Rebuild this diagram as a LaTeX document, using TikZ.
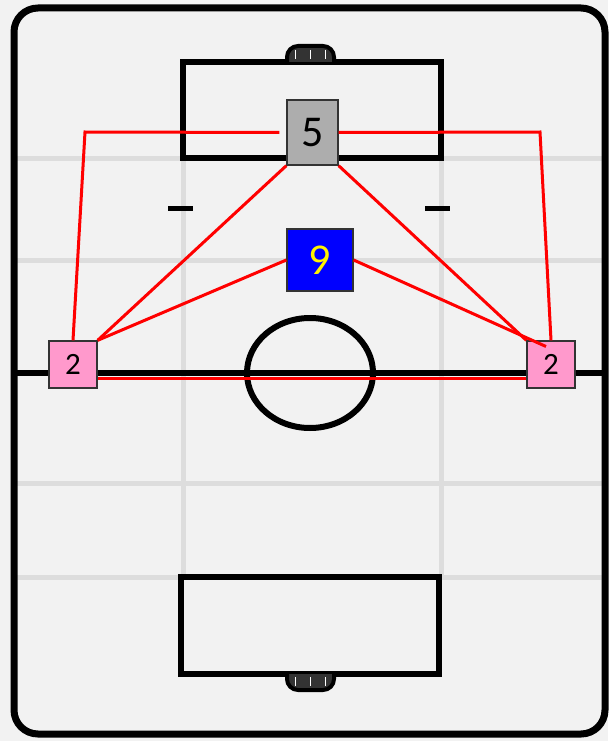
\documentclass[tikz,border=0pt]{standalone}
\usepackage{fontspec}
\setmainfont{Carlito}
\usetikzlibrary{positioning, calc}
\definecolor{turf}{RGB}{242,242,242}
\definecolor{gridline}{RGB}{221,221,221}
\definecolor{keepergray}{RGB}{173,173,173}
\definecolor{wingpink}{RGB}{255,153,204}
\definecolor{goaldark}{RGB}{51,51,51}
\definecolor{passred}{RGB}{255,0,0}
\tikzset{
  pitchline/.style={line width=6pt, draw=black},
  gridstripe/.style={line width=5pt, draw=gridline},
  player/.style={draw=black!80, line width=1.3pt, inner sep=0pt, font=\fontsize{44}{44}\selectfont},
  passline/.style={draw=passred, line width=3pt}
}
\begin{document}
\begin{tikzpicture}[x=1pt, y=-1pt]
  % background and pitch outline
  \fill[turf] (0,0) rectangle (608,741);
  \useasboundingbox (0,0) rectangle (608,741);
  \foreach \gy in {158, 260, 483, 577}
    \draw[gridstripe] (14,\gy) -- (604,\gy);
  \foreach \gx in {183, 441}
    \draw[gridstripe] (\gx,158) -- (\gx,577);
  \draw[line width=7pt, rounded corners=24pt] (14,8) rectangle (605,734);
  \draw[pitchline] (14,373) -- (605,373);
  \draw[pitchline] (310,373) ellipse [x radius=63, y radius=55];
  % penalty boxes
  \draw[pitchline] (183,62) rectangle (441,158);
  \draw[pitchline] (181,577) rectangle (439,674);
  % goals
  \draw[line width=4pt, fill=goaldark, rounded corners=11pt] (287,62) -- (287,46) -- (334,46) -- (334,62);
  \draw[line width=4pt, fill=goaldark, rounded corners=11pt] (287,674) -- (287,690) -- (334,690) -- (334,674);
  \foreach \wx in {295, 310, 325} {
    \draw[white, line width=1pt] (\wx,50) -- (\wx,59);
    \draw[white, line width=1pt] (\wx,677) -- (\wx,686);
  }
  % dashes
  \draw[line width=5pt] (168,208) -- (193,208);
  \draw[line width=5pt] (425,208) -- (450,208);
  % players
  \node[player, fill=keepergray, minimum width=51pt, minimum height=65pt] (keeper) at (312.5,132.5) {5};
  \node[player, fill=blue, text=yellow, minimum width=66pt, minimum height=62pt] (striker) at (320,260) {9};
  \node[player, fill=wingpink, minimum width=48pt, minimum height=47pt,
        font=\fontsize{31}{31}\selectfont] (wingL) at (73,364.5) {2};
  \node[player, fill=wingpink, minimum width=48pt, minimum height=47pt,
        font=\fontsize{31}{31}\selectfont] (wingR) at (551,364.5) {2};
  % passing lanes
  \draw[passline, shorten <=7pt] (keeper.west) -- (85,132) -- (wingL.north);
  \draw[passline] (keeper.east) -- (540,132) -- (wingR.north);
  \draw[passline] (keeper.south west) -- (wingL.north east);
  \draw[passline] (striker.west) -- (wingL.north east);
  \draw[passline] (keeper.south east) -- (wingR.north west);
  \draw[passline] (striker.east) -- ([shift={(-5,-18)}]wingR.center);
  \draw[passline] ([yshift=-13.5pt]wingL.east) -- ([yshift=-13.5pt]wingR.west);
\end{tikzpicture}
\end{document}
